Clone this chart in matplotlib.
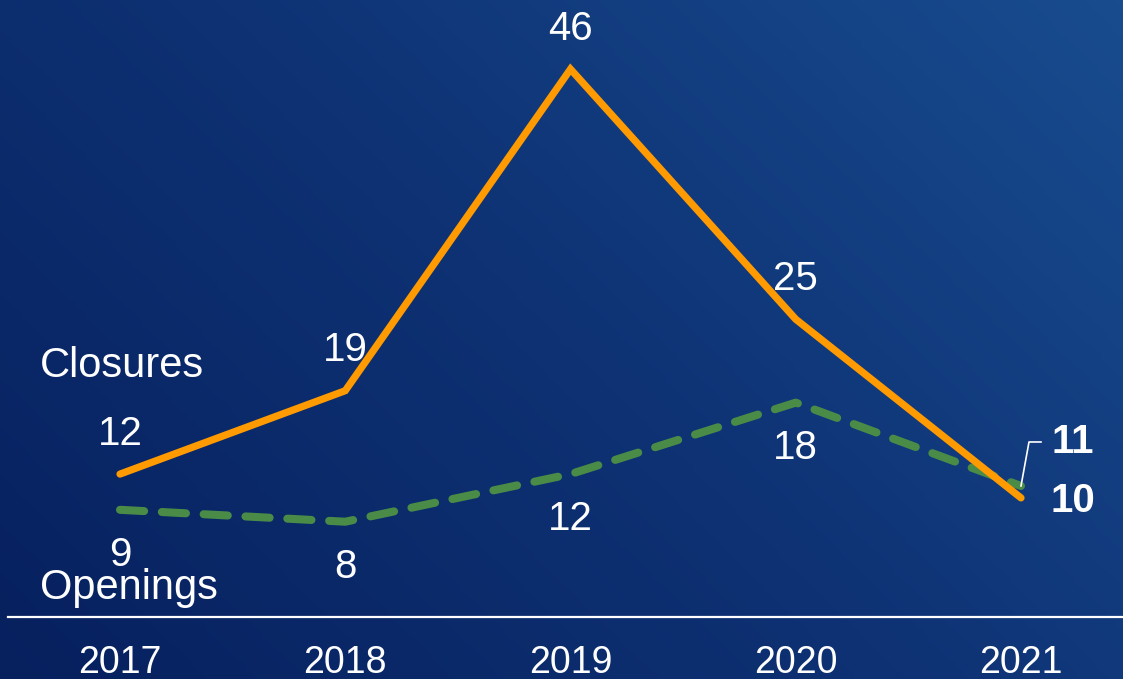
import numpy as np
import matplotlib
matplotlib.use("Agg")
import matplotlib.pyplot as plt
from matplotlib.colors import LinearSegmentedColormap

years = ["2017", "2018", "2019", "2020", "2021"]
closures = [12, 19, 46, 25, 10]
openings = [9, 8, 12, 18, 11]

plt.rcParams['font.family'] = ['Liberation Sans', 'DejaVu Sans']

W, H = 1123, 679
fig = plt.figure(figsize=(W / 100, H / 100), dpi=100)

# background gradient
bg = fig.add_axes([0, 0, 1, 1], zorder=0)
bg.set_axis_off()
gx = np.linspace(0, 1, 300)
gy = np.linspace(0, 1, 200)
GX, GY = np.meshgrid(gx, gy)
G = 0.62 * GX + 0.38 * GY
cmap = LinearSegmentedColormap.from_list("bgc", ["#07205e", "#0e3274", "#184c8f"])
bg.imshow(G, cmap=cmap, origin="lower", extent=[0, 1, 0, 1], aspect="auto")
bg.set_xlim(0, 1)
bg.set_ylim(0, 1)

ax = fig.add_axes([0, 0, 1, 1], zorder=1)
ax.patch.set_alpha(0)
ax.set_axis_off()

x = np.arange(len(years))
px_per_x = 225.25
x0_px = 120
px_per_y = 11.91
y0_px = 617
ax.set_xlim(-x0_px / px_per_x, (W - x0_px) / px_per_x)
ax.set_ylim((y0_px - H) / px_per_y, y0_px / px_per_y)

ax.plot(x, closures, color="#ff9a00", lw=5.2, solid_capstyle="round",
        solid_joinstyle="miter", zorder=3)
ax.plot(x, openings, color="#4a8c47", lw=5.8, ls=(0, (3.0, 2.2)),
        dash_capstyle="round", zorder=2)

fs = 29
fs_name = 30
fs_year = 27
for i in range(len(years) - 1):
    ax.annotate(str(closures[i]), (x[i], closures[i]), xytext=(0, 29),
                textcoords="offset points", ha="center", va="center",
                color="white", fontsize=fs)
    ax.annotate(str(openings[i]), (x[i], openings[i]), xytext=(0, -32.5),
                textcoords="offset points", ha="center", va="center",
                color="white", fontsize=fs)

# last values, bold on the right
ax.annotate(str(closures[-1]), (x[-1], closures[-1]), xytext=(37, -2),
            textcoords="offset points", ha="center", va="center",
            color="white", fontsize=fs, fontweight="bold")
ax.annotate(str(openings[-1]), (x[-1], openings[-1]), xytext=(37, 32),
            textcoords="offset points", ha="center", va="center",
            color="white", fontsize=fs, fontweight="bold")
# leader line for 11
xl = x[-1]
ax.plot([xl, xl + 8 / px_per_x, xl + 20 / px_per_x],
        [openings[-1], openings[-1] + 44 / px_per_y, openings[-1] + 44 / px_per_y],
        color="white", lw=1.2, zorder=4)

# series names
ax.text(40 / px_per_x - x0_px / px_per_x, (y0_px - 366) / px_per_y, "Closures",
        ha="left", va="center", color="white", fontsize=fs_name)
ax.text(40 / px_per_x - x0_px / px_per_x, (y0_px - 588) / px_per_y, "Openings",
        ha="left", va="center", color="white", fontsize=fs_name)

# baseline
ax.axhline(0, xmin=8 / W, xmax=1, color="white", lw=1.6, zorder=1)

# year labels
for i, yr in enumerate(years):
    ax.text(x[i], (y0_px - 663) / px_per_y, yr, ha="center", va="center",
            color="white", fontsize=fs_year)

fig.savefig("out.png", dpi=100)
